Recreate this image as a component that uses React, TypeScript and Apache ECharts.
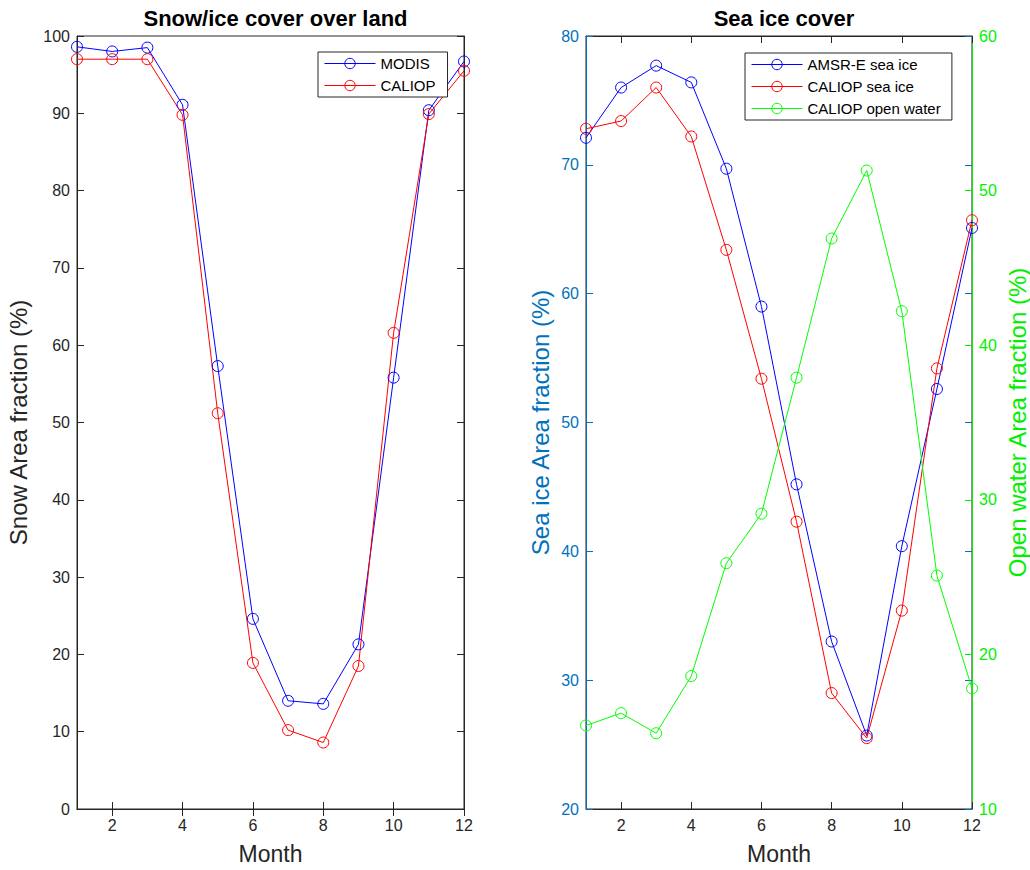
import React, { useEffect, useRef } from "react";
import * as echarts from "echarts";

const months = [1, 2, 3, 4, 5, 6, 7, 8, 9, 10, 11, 12];
const monthTicks = [2, 4, 6, 8, 10, 12];

const modisSnow = [98.6, 98.0, 98.5, 91.1, 57.3, 24.6, 14.0, 13.6, 21.3, 55.8, 90.4, 96.7];
const caliopSnow = [97.0, 97.0, 97.0, 89.8, 51.2, 18.9, 10.2, 8.6, 18.5, 61.6, 89.9, 95.5];

const amsrSeaIce = [72.1, 76.0, 77.7, 76.4, 69.7, 59.0, 45.2, 33.0, 25.7, 40.4, 52.6, 65.1];
const caliopSeaIce = [72.8, 73.4, 76.0, 72.2, 63.4, 53.4, 42.3, 29.0, 25.5, 35.4, 54.2, 65.7];
const caliopOpenWater = [15.4, 16.2, 14.9, 18.6, 25.9, 29.1, 37.9, 46.9, 51.3, 42.2, 25.1, 17.8];

const FONT = "Liberation Sans, Arial, Helvetica, sans-serif";
const DARK = "#262626";
const BLUE_AX = "#0072BD";
const GREEN_AX = "#00f000";
const TICK_FS = 16;
const NAME_FS = 24;

const pairs = (vals: number[]) => months.map((m, i) => [m, vals[i]]);

function lineSeries(name: string, color: string, xi: number, yi: number, vals: number[]) {
  return {
    name,
    type: "line",
    xAxisIndex: xi,
    yAxisIndex: yi,
    data: pairs(vals),
    symbol: "circle",
    symbolSize: 11,
    itemStyle: { color: "rgba(255,255,255,0)", borderColor: color, borderWidth: 1 },
    lineStyle: { color, width: 1 },
    emphasis: { disabled: true },
  };
}

function xAxes(gridIndex: number) {
  return [
    {
      type: "value",
      gridIndex,
      position: "bottom",
      min: 1,
      max: 12,
      name: "Month",
      nameLocation: "middle",
      nameGap: 33,
      nameTextStyle: { fontSize: 23, color: DARK, fontFamily: FONT },
      axisLine: { show: true, lineStyle: { color: DARK, width: 1 } },
      axisTick: { show: true, inside: true, length: 7, customValues: monthTicks, lineStyle: { color: DARK } },
      axisLabel: { show: true, customValues: monthTicks, fontSize: TICK_FS, color: DARK, fontFamily: FONT, margin: 8 },
      splitLine: { show: false },
    },
    {
      type: "value",
      gridIndex,
      position: "top",
      min: 1,
      max: 12,
      axisLine: { show: true, lineStyle: { color: DARK, width: 1 } },
      axisTick: { show: true, inside: true, length: 7, customValues: monthTicks, lineStyle: { color: DARK } },
      axisLabel: { show: false },
      splitLine: { show: false },
    },
  ];
}

const legendBase = {
  orient: "vertical",
  itemGap: 7,
  itemWidth: 51,
  itemHeight: 13,
  itemTextGap: 5,
  backgroundColor: "#fff",
  borderColor: DARK,
  borderWidth: 1,
  selectedMode: false,
  lineStyle: { width: 1 },
  itemStyle: { borderWidth: 1 },
  textStyle: { fontSize: 15, color: "#000", fontFamily: FONT },
};

export default function App() {
  const ref = useRef<HTMLDivElement>(null);
  useEffect(() => {
    if (!ref.current) return;
    const chart = echarts.init(ref.current, undefined, { renderer: "svg" });
    const option: any = {
      animation: false,
      backgroundColor: "#fff",
      textStyle: { fontFamily: FONT },
      title: [
        {
          text: "Snow/ice cover over land",
          left: 270.5,
          top: 2,
          textAlign: "center",
          textStyle: { fontSize: 22, fontWeight: "bold", color: "#000", fontFamily: FONT },
        },
        {
          text: "Sea ice cover",
          left: 779,
          top: 2,
          textAlign: "center",
          textStyle: { fontSize: 22, fontWeight: "bold", color: "#000", fontFamily: FONT },
        },
      ],
      grid: [
        { left: 77, top: 36, width: 387, height: 776, show: true, borderColor: DARK, borderWidth: 1, containLabel: false },
        { left: 586, top: 36, width: 386, height: 776, show: true, borderColor: DARK, borderWidth: 1, containLabel: false },
      ],
      xAxis: [...xAxes(0), ...xAxes(1)],
      yAxis: [
        {
          type: "value",
          gridIndex: 0,
          position: "left",
          min: 0,
          max: 100,
          interval: 10,
          name: "Snow Area fraction (%)",
          nameLocation: "middle",
          nameRotate: 90,
          nameGap: 47,
          nameTextStyle: { fontSize: NAME_FS, color: DARK, fontFamily: FONT },
          axisLine: { show: true, lineStyle: { color: DARK } },
          axisTick: { show: true, inside: true, length: 7, lineStyle: { color: DARK } },
          axisLabel: { fontSize: TICK_FS, color: DARK, fontFamily: FONT, margin: 7 },
          splitLine: { show: false },
        },
        {
          type: "value",
          gridIndex: 0,
          position: "right",
          min: 0,
          max: 100,
          interval: 10,
          axisLine: { show: true, lineStyle: { color: DARK } },
          axisTick: { show: true, inside: true, length: 7, lineStyle: { color: DARK } },
          axisLabel: { show: false },
          splitLine: { show: false },
        },
        {
          type: "value",
          gridIndex: 1,
          position: "left",
          min: 20,
          max: 80,
          interval: 10,
          name: "Sea ice Area fraction (%)",
          nameLocation: "middle",
          nameRotate: 90,
          nameGap: 34,
          nameTextStyle: { fontSize: NAME_FS, color: BLUE_AX, fontFamily: FONT },
          axisLine: { show: true, lineStyle: { color: BLUE_AX } },
          axisTick: { show: true, inside: true, length: 7, lineStyle: { color: BLUE_AX } },
          axisLabel: { fontSize: TICK_FS, color: BLUE_AX, fontFamily: FONT, margin: 7 },
          splitLine: { show: false },
        },
        {
          type: "value",
          gridIndex: 1,
          position: "right",
          min: 10,
          max: 60,
          interval: 10,
          name: "Open water Area fraction (%)",
          nameLocation: "middle",
          nameRotate: 90,
          nameGap: 33,
          nameTextStyle: { fontSize: NAME_FS, color: GREEN_AX, fontFamily: FONT },
          axisLine: { show: true, lineStyle: { color: GREEN_AX } },
          axisTick: { show: true, inside: true, length: 7, lineStyle: { color: GREEN_AX } },
          axisLabel: { fontSize: TICK_FS, color: GREEN_AX, fontFamily: FONT, margin: 7 },
          splitLine: { show: false },
        },
        {
          type: "value",
          gridIndex: 1,
          position: "right",
          min: 20,
          max: 80,
          interval: 10,
          axisLine: { show: false },
          axisTick: { show: true, inside: true, length: 7, lineStyle: { color: BLUE_AX } },
          axisLabel: { show: false },
          splitLine: { show: false },
        },
      ],
      legend: [
        {
          ...legendBase,
          data: ["MODIS", "CALIOP"],
          left: 318,
          top: 52,
          padding: [4, 12, 4, 6],
        },
        {
          ...legendBase,
          data: ["AMSR-E sea ice", "CALIOP sea ice", "CALIOP open water"],
          left: 745,
          top: 53,
          padding: [4, 11, 4, 6],
        },
      ],
      series: [
        lineSeries("MODIS", "#0000ff", 0, 0, modisSnow),
        lineSeries("CALIOP", "#ff0000", 0, 0, caliopSnow),
        lineSeries("AMSR-E sea ice", "#0000ff", 2, 2, amsrSeaIce),
        lineSeries("CALIOP sea ice", "#ff0000", 2, 2, caliopSeaIce),
        lineSeries("CALIOP open water", "#00ff00", 2, 3, caliopOpenWater),
      ],
    };
    chart.setOption(option);
    return () => chart.dispose();
  }, []);
  return <div ref={ref} style={{ position: "fixed", left: 0, top: 0, width: 1030, height: 870 }} />;
}
